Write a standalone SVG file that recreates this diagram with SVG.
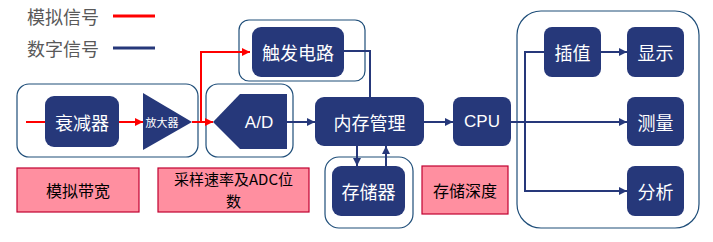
<svg xmlns="http://www.w3.org/2000/svg" width="713" height="242" viewBox="0 0 713 242">
<defs>
<marker id="ab" viewBox="0 0 10 10" refX="10" refY="5" markerWidth="9" markerHeight="8" markerUnits="userSpaceOnUse" orient="auto"><path d="M0,0 L10,5 L0,10 z" fill="#26387A"/></marker>
<marker id="ar" viewBox="0 0 10 10" refX="10" refY="5" markerWidth="9" markerHeight="8" markerUnits="userSpaceOnUse" orient="auto"><path d="M0,0 L10,5 L0,10 z" fill="#FF0000"/></marker>
</defs>
<style>
.grp{fill:none;stroke:#1F4E79;stroke-width:1.2}
.node{fill:#26387A}
.t{font-family:"Noto Sans CJK SC","Liberation Sans",sans-serif;fill:#fff;font-size:18px;text-anchor:middle;dominant-baseline:central}
.pink{fill:#FF8FA0;stroke:#C00030;stroke-width:1.2}
.pt{font-family:"Noto Sans CJK SC","Liberation Sans",sans-serif;fill:#000;font-size:16px;text-anchor:middle;dominant-baseline:central}
.leg{font-family:"Noto Sans CJK SC","Liberation Sans",sans-serif;fill:#595959;font-size:18px;dominant-baseline:central}
.lb{fill:none;stroke:#26387A;stroke-width:2}
.lr{fill:none;stroke:#FF0000;stroke-width:2}
</style>
<rect width="713" height="242" fill="#fff"/>
<g id="legend">
<text class="leg" x="27" y="16">模拟信号</text>
<line x1="113" y1="16" x2="155" y2="16" stroke="#FF0000" stroke-width="3"/>
<text class="leg" x="27" y="48">数字信号</text>
<line x1="113" y1="48" x2="155" y2="48" stroke="#26387A" stroke-width="3"/>
</g>
<g id="groups">
<rect class="grp" x="17" y="84" width="181" height="73" rx="12"/>
<rect class="grp" x="206" y="84" width="87" height="73" rx="12"/>
<rect class="grp" x="239" y="20" width="126" height="61" rx="10"/>
<rect class="grp" x="325" y="157" width="88" height="71" rx="14"/>
<rect class="grp" x="517" y="11" width="182" height="217" rx="24"/>
</g>
<g id="connectors">
<line class="lr" x1="26" y1="122" x2="45" y2="122"/>
<line class="lr" x1="119" y1="122" x2="143" y2="122" marker-end="url(#ar)"/>
<line class="lr" x1="192" y1="122" x2="213" y2="122" marker-end="url(#ar)"/>
<polyline class="lr" points="201,122 201,52 250,52" marker-end="url(#ar)"/>
<polyline class="lb" points="344,51 370,51 370,97"/>
<line class="lb" x1="287" y1="122" x2="315" y2="122" marker-end="url(#ab)"/>
<line class="lb" x1="357" y1="146" x2="357" y2="166" marker-end="url(#ab)"/>
<line class="lb" x1="386" y1="166" x2="386" y2="146" marker-end="url(#ab)"/>
<line class="lb" x1="424" y1="122" x2="453" y2="122" marker-end="url(#ab)"/>
<line class="lb" x1="511" y1="122" x2="627" y2="122" marker-end="url(#ab)"/>
<polyline class="lb" points="544,52 525,52 525,191 627,191" marker-end="url(#ab)"/>
<line class="lb" x1="601" y1="52" x2="627" y2="52" marker-end="url(#ab)"/>
</g>
<g id="attenuator"><rect class="node" x="45" y="96" width="74" height="51" rx="9"/><text class="t" x="82" y="121.5">衰减器</text></g>
<g id="amplifier"><polygon class="node" points="143,93 192,122 143,150"/><text class="t" x="162" y="122" style="font-size:11px">放大器</text></g>
<g id="adc"><polygon class="node" points="213,122 240,94 287,94 287,149 240,149"/><text class="t" x="259" y="122" style="font-size:17px;font-family:'Liberation Sans',sans-serif">A/D</text></g>
<g id="trigger"><rect class="node" x="252" y="27" width="92" height="50" rx="9"/><text class="t" x="298" y="51.5">触发电路</text></g>
<g id="memmgr"><rect class="node" x="315" y="97" width="109" height="49" rx="9"/><text class="t" x="369.5" y="121.5">内存管理</text></g>
<g id="storage"><rect class="node" x="332" y="166" width="73" height="50" rx="9"/><text class="t" x="368.5" y="190.5">存储器</text></g>
<g id="cpu"><rect class="node" x="453" y="97" width="58" height="49" rx="8"/><text class="t" x="482" y="121.5" style="font-size:17px;font-family:'Liberation Sans',sans-serif">CPU</text></g>
<g id="interp"><rect class="node" x="544" y="27" width="57" height="50" rx="8"/><text class="t" x="572.5" y="51.5">插值</text></g>
<g id="display"><rect class="node" x="627" y="27" width="57" height="50" rx="8"/><text class="t" x="655.5" y="51.5">显示</text></g>
<g id="measure"><rect class="node" x="627" y="97" width="57" height="49" rx="8"/><text class="t" x="655.5" y="121.5">测量</text></g>
<g id="analyze"><rect class="node" x="627" y="166" width="57" height="50" rx="8"/><text class="t" x="655.5" y="190.5">分析</text></g>
<g id="bw"><rect class="pink" x="17" y="168" width="122" height="44"/><text class="pt" x="78" y="190">模拟带宽</text></g>
<g id="rate"><rect class="pink" x="158" y="168" width="151" height="44"/><text class="pt" x="233.5" y="178.5" style="font-size:15px">采样速率及ADC位</text><text class="pt" x="233.5" y="200.5" style="font-size:15px">数</text></g>
<g id="depth"><rect class="pink" x="422" y="166" width="86" height="48"/><text class="pt" x="465" y="190">存储深度</text></g>
</svg>
